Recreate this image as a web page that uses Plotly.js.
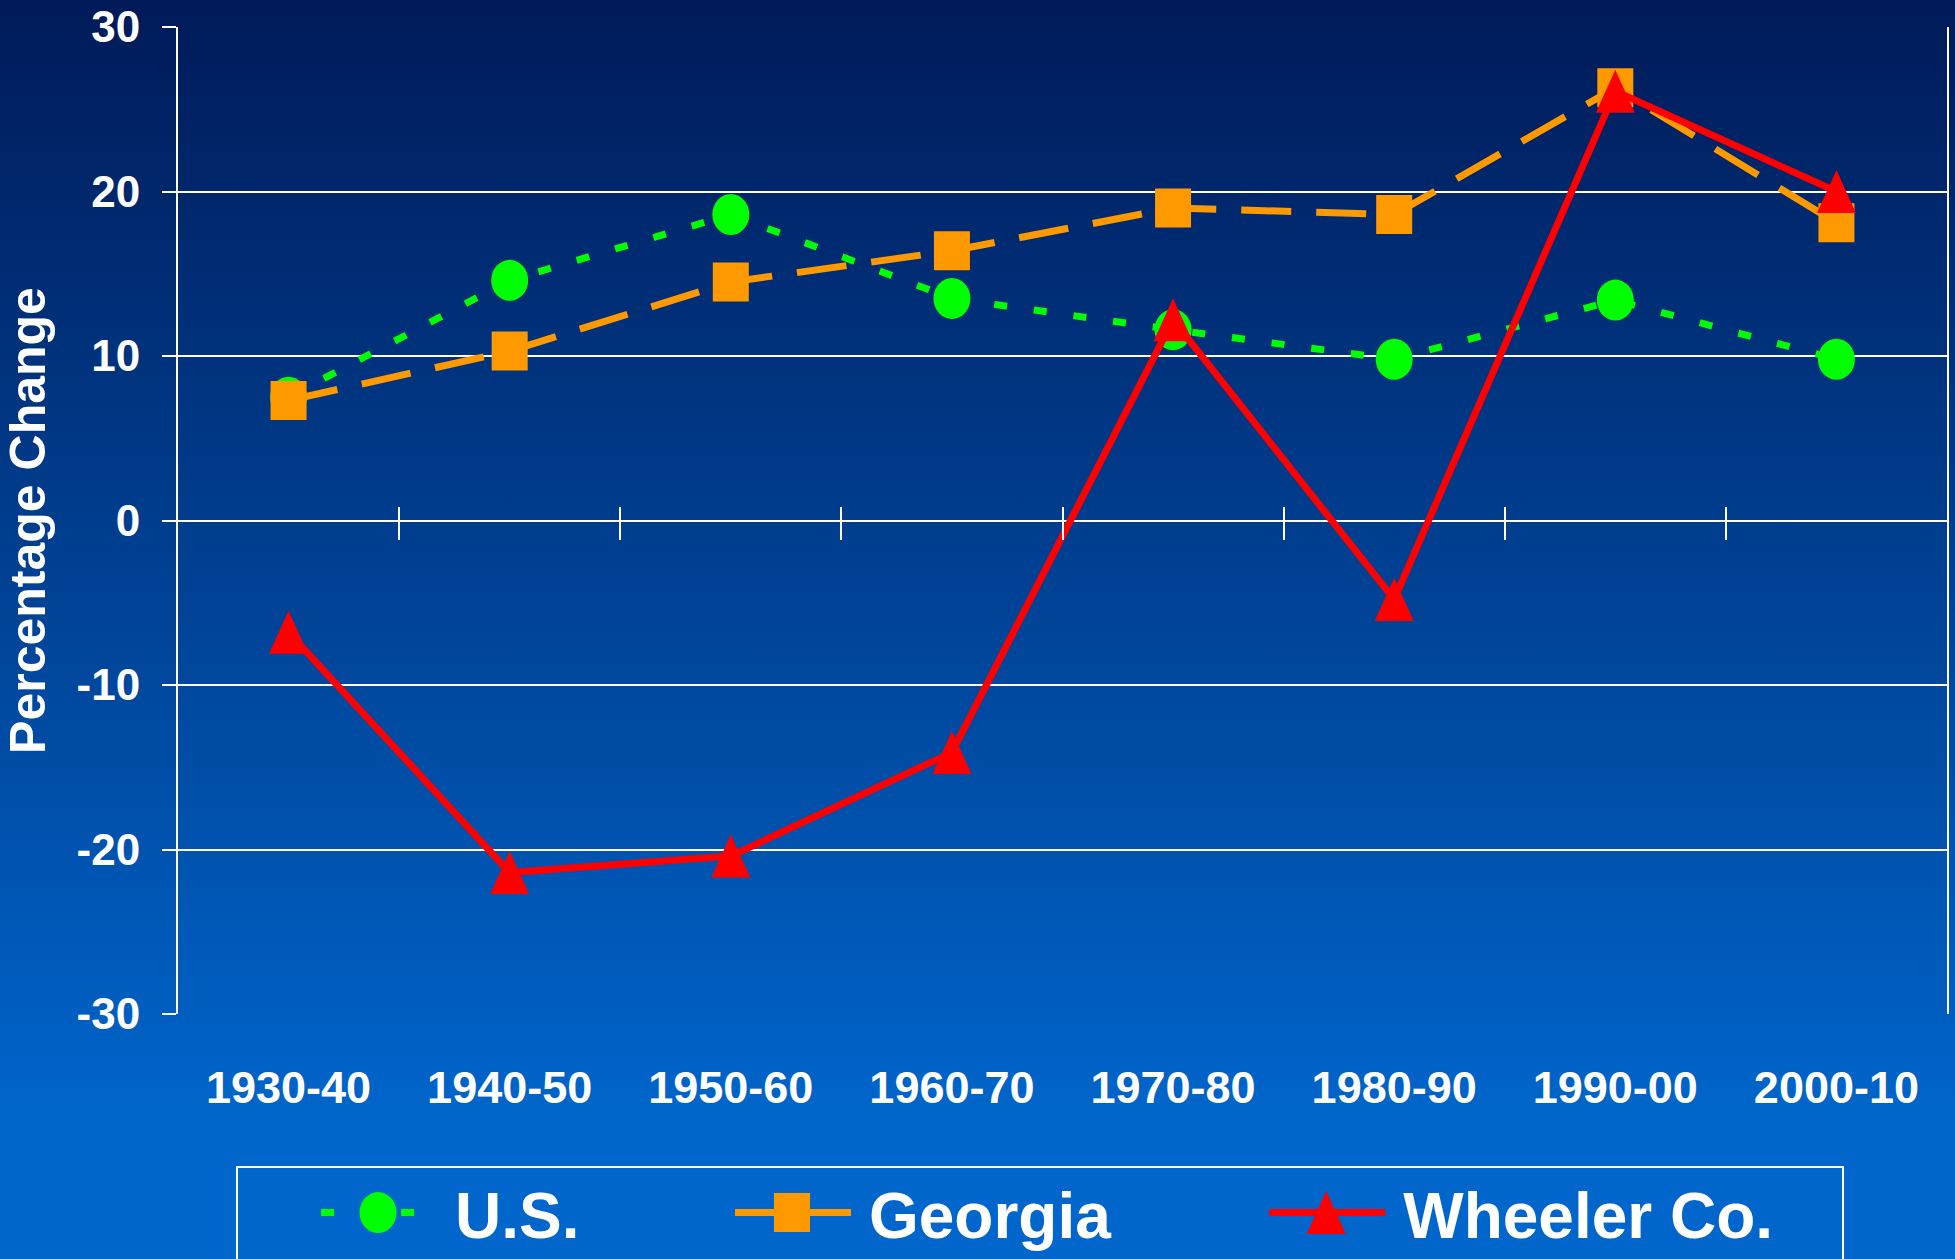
<!DOCTYPE html>
<html><head><meta charset="utf-8">
<script src="https://cdn.plot.ly/plotly-3.0.1.min.js"></script>
<style>
html,body{margin:0;padding:0;width:1955px;height:1259px;overflow:hidden;
background:linear-gradient(to bottom,#001a58 0%,#0066cc 90%,#0066cc 100%);}
#chart{width:1955px;height:1259px;}
</style></head><body><div id="chart"></div>
<script>
const categories = ['1930-40','1940-50','1950-60','1960-70','1970-80','1980-90','1990-00','2000-10'];
const usValues = [7.5, 14.6, 18.6, 13.5, 11.6, 9.8, 13.4, 9.8];
const georgiaValues = [7.3, 10.3, 14.5, 16.4, 19.0, 18.6, 26.3, 18.1];
const wheelerValues = [-6.8, -21.4, -20.4, -14.1, 12.2, -4.8, 26.1, 20.0];
const seriesNames = ['U.S.', 'Georgia', 'Wheeler Co.'];
const yTickValues = [-30, -20, -10, 0, 10, 20, 30];
const yTickLabels = ['-30', '-20', '-10', '0', '10', '20', '30'];
const yAxisTitle = 'Percentage Change';

const FONT = 'Liberation Sans, Arial, sans-serif';
const boundaryTicks = categories.slice(1).map((c, i) => i + 0.5);

const traces = [
  {x: categories, y: usValues, name: seriesNames[0], type: 'scatter', mode: 'lines+markers',
   line: {color: '#00ff00', width: 7, dash: '13px,27px'},
   marker: {symbol: 'circle', size: 37, color: '#00ff00'}, legend: 'legend'},
  {x: categories, y: georgiaValues, name: seriesNames[1], type: 'scatter', mode: 'lines+markers',
   line: {color: '#ff9900', width: 7, dash: '50px,25px'},
   marker: {symbol: 'square', size: 36, color: '#ff9900'}, legend: 'legend2'},
  {x: categories, y: wheelerValues, name: seriesNames[2], type: 'scatter', mode: 'lines+markers',
   line: {color: '#ff0000', width: 7},
   marker: {symbol: 'triangle-up', size: 40, color: '#ff0000'}, legend: 'legend3'},
  // empty helper traces so the zero-line tick axes are drawn
  {x: [], y: [], type: 'scatter', mode: 'lines', xaxis: 'x2', yaxis: 'y', showlegend: false, hoverinfo: 'skip'},
  {x: [], y: [], type: 'scatter', mode: 'lines', xaxis: 'x3', yaxis: 'y', showlegend: false, hoverinfo: 'skip'}
];

const legendBase = {
  orientation: 'h', yref: 'container', yanchor: 'middle', y: 1 - 1213 / 1259, xanchor: 'left',
  bgcolor: 'rgba(0,0,0,0)', borderwidth: 0, itemsizing: 'trace',
  font: {family: FONT, size: 64, color: '#ffffff', weight: 'bold'}
};

const layout = {
  width: 1955, height: 1259,
  paper_bgcolor: 'rgba(0,0,0,0)', plot_bgcolor: 'rgba(0,0,0,0)',
  margin: {l: 178, r: 8, t: 27, b: 245, pad: 0, autoexpand: false},
  showlegend: true,
  legend: Object.assign({}, legendBase, {x: 0.134}),
  legend2: Object.assign({}, legendBase, {x: 0.368}),
  legend3: Object.assign({}, legendBase, {x: 0.670}),
  xaxis: {
    type: 'category', categoryorder: 'array', categoryarray: categories,
    range: [-0.5, 7.5], showgrid: false, zeroline: false, showline: false, ticks: '',
    tickfont: {family: FONT, size: 45, color: '#ffffff', weight: 'bold'},
    ticklabelstandoff: 43
  },
  xaxis2: {
    overlaying: 'x', anchor: 'free', position: 0.5, side: 'bottom', type: 'linear',
    range: [-0.5, 7.5], tickmode: 'array', tickvals: boundaryTicks, showticklabels: false,
    ticks: 'outside', ticklen: 18, tickwidth: 2, tickcolor: '#ffffff',
    showgrid: false, zeroline: false, showline: false
  },
  xaxis3: {
    overlaying: 'x', anchor: 'free', position: 0.5, side: 'top', type: 'linear',
    range: [-0.5, 7.5], tickmode: 'array', tickvals: boundaryTicks, showticklabels: false,
    ticks: 'outside', ticklen: 14, tickwidth: 2, tickcolor: '#ffffff',
    showgrid: false, zeroline: false, showline: false
  },
  yaxis: {
    range: [-30, 30], tickmode: 'array', tickvals: yTickValues, ticktext: yTickLabels,
    showgrid: true, gridcolor: '#ffffff', gridwidth: 2,
    zeroline: true, zerolinecolor: '#ffffff', zerolinewidth: 2,
    showline: true, linecolor: '#ffffff', linewidth: 2, mirror: true,
    ticks: 'outside', ticklen: 14, tickwidth: 2, tickcolor: '#ffffff',
    ticklabelstandoff: 13,
    tickfont: {family: FONT, size: 44, color: '#ffffff', weight: 'bold'},
    title: {text: yAxisTitle, standoff: 20, font: {family: FONT, size: 50, color: '#ffffff', weight: 'bold'}}
  },
  shapes: [{
    type: 'rect', xref: 'paper', yref: 'paper',
    x0: (237 - 178) / 1769, x1: (1843 - 178) / 1769, y0: -0.155, y1: -0.40,
    line: {color: '#ffffff', width: 2}, fillcolor: 'rgba(0,0,0,0)', layer: 'below'
  }]
};

// marker shapes in the original are slightly taller than wide (width, height in px)
const markerBoxes = [[37, 41], [36, 39], [39, 43]];

function reshape(path, box, baseTransform) {
  const bb = path.getBBox();
  if (!(bb.width > 0 && bb.height > 0)) return;
  const kx = box[0] / bb.width, ky = box[1] / bb.height;
  const cx = (bb.x + bb.width / 2) * kx, cy = (bb.y + bb.height / 2) * ky;
  path.setAttribute('transform', baseTransform + ' translate(' + (-cx) + ',' + (-cy) + ') scale(' + kx + ',' + ky + ')');
}

const legendIds = ['legend', 'legend2', 'legend3'];
function restyleKeys() {
  // markers on the plot
  const traceGroups = document.querySelectorAll('.scatterlayer .trace');
  for (let i = 0; i < 3 && i < traceGroups.length; i++) {
    traceGroups[i].querySelectorAll('path.point').forEach(p => {
      reshape(p, markerBoxes[i], p.getAttribute('transform') || '');
    });
  }
  // legend keys: long lines with large centred markers
  legendIds.forEach((id, i) => {
    const lg = document.querySelector('g.' + id);
    if (!lg) return;
    lg.querySelectorAll('[clip-path]').forEach(el => el.removeAttribute('clip-path'));
    lg.querySelectorAll('.legendlines path').forEach(p => p.setAttribute('d', 'M-94,0h116'));
    lg.querySelectorAll('path.scatterpts').forEach(p => reshape(p, markerBoxes[i], 'translate(-37,0)'));
  });
}

Plotly.newPlot('chart', traces, layout, {displayModeBar: false, staticPlot: true}).then(restyleKeys);
</script>
</body></html>
